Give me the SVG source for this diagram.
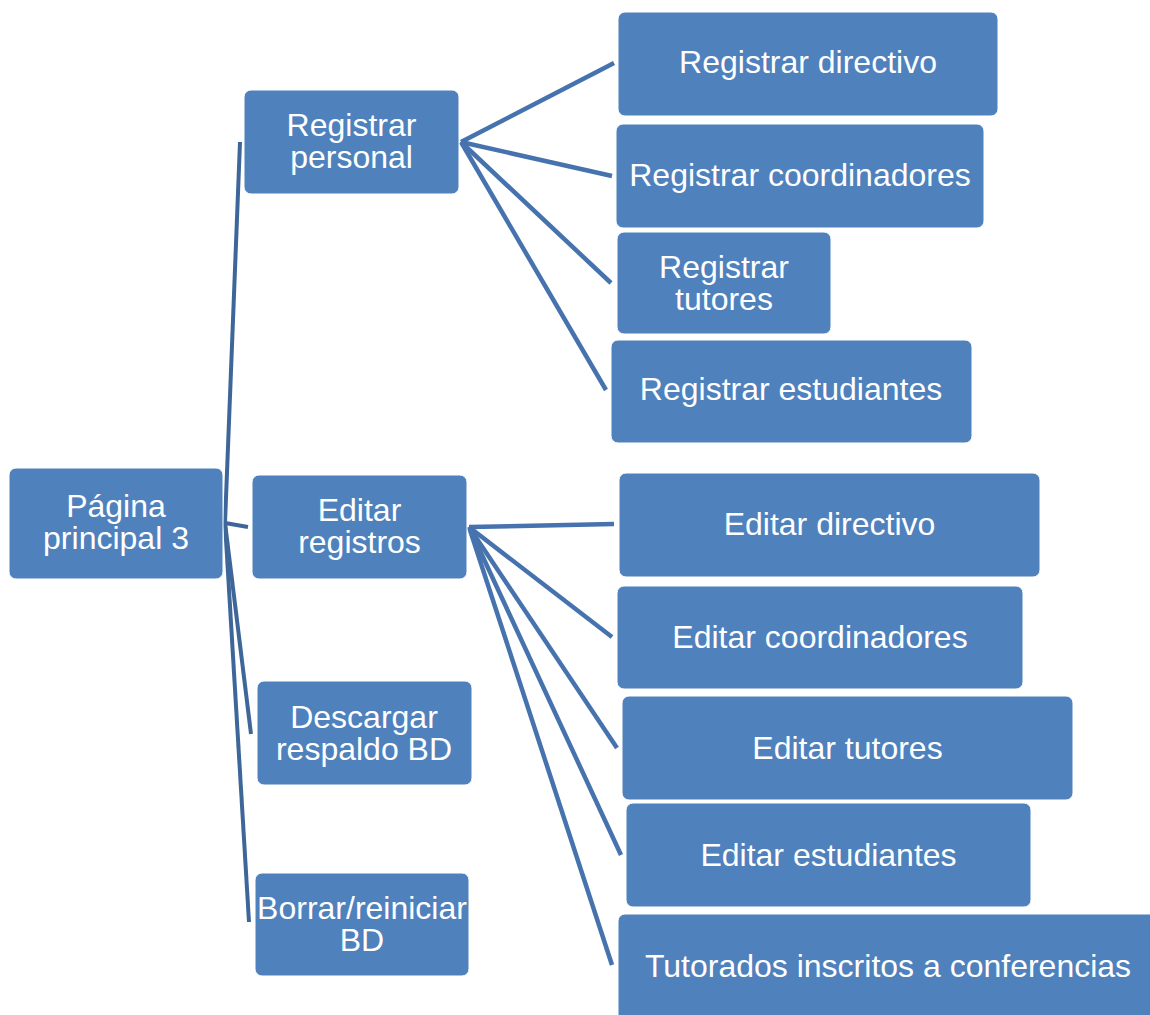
<svg xmlns="http://www.w3.org/2000/svg" width="1150" height="1015" viewBox="0 0 1150 1015">
<style>
.n{fill:#4F81BD;stroke:#ffffff;stroke-width:1}
.t{font-family:"Liberation Sans",Arial,sans-serif;font-size:32px;fill:#ffffff;text-anchor:middle}
.cl{stroke:#3F6699;stroke-width:4;fill:none;stroke-linecap:butt}
.cr{stroke:#4673AD;stroke-width:4.5;fill:none;stroke-linecap:butt}
</style>
<rect width="1150" height="1015" fill="#ffffff"/>
<g id="connectors">
<line class="cl" x1="225" y1="523" x2="240" y2="142"/>
<line class="cl" x1="225" y1="523" x2="248" y2="527"/>
<line class="cl" x1="225" y1="523" x2="251" y2="734"/>
<line class="cl" x1="225" y1="523" x2="249" y2="922"/>
<line class="cr" x1="461" y1="142" x2="614" y2="63"/>
<line class="cr" x1="461" y1="142" x2="612" y2="176"/>
<line class="cr" x1="461" y1="142" x2="611" y2="283"/>
<line class="cr" x1="461" y1="142" x2="606" y2="390"/>
<line class="cr" x1="469" y1="527" x2="614" y2="524"/>
<line class="cr" x1="469" y1="527" x2="612" y2="637"/>
<line class="cr" x1="469" y1="527" x2="617" y2="748"/>
<line class="cr" x1="469" y1="527" x2="621" y2="855"/>
<line class="cr" x1="469" y1="527" x2="612" y2="965"/>
</g>
<g id="n-pagina">
<rect class="n" x="9" y="468" width="214" height="111" rx="7"/>
<text class="t" x="116" y="517">Página</text>
<text class="t" x="116" y="549">principal 3</text>
</g>
<g id="n-registrar-personal">
<rect class="n" x="244" y="90" width="215" height="104" rx="7"/>
<text class="t" x="351.5" y="136">Registrar</text>
<text class="t" x="351.5" y="168">personal</text>
</g>
<g id="n-editar-registros">
<rect class="n" x="252" y="475" width="215" height="104" rx="7"/>
<text class="t" x="359.5" y="521">Editar</text>
<text class="t" x="359.5" y="553">registros</text>
</g>
<g id="n-descargar">
<rect class="n" x="257" y="681" width="215" height="104" rx="7"/>
<text class="t" x="364" y="728">Descargar</text>
<text class="t" x="364" y="760">respaldo BD</text>
</g>
<g id="n-borrar">
<rect class="n" x="255" y="873" width="214" height="103" rx="7"/>
<text class="t" x="362" y="919">Borrar/reiniciar</text>
<text class="t" x="362" y="951">BD</text>
</g>
<g id="n-reg-directivo">
<rect class="n" x="618" y="12" width="380" height="104" rx="7"/>
<text class="t" x="808" y="73">Registrar directivo</text>
</g>
<g id="n-reg-coordinadores">
<rect class="n" x="616" y="124" width="368" height="104" rx="7"/>
<text class="t" x="800" y="186">Registrar coordinadores</text>
</g>
<g id="n-reg-tutores">
<rect class="n" x="617" y="232" width="214" height="102" rx="7"/>
<text class="t" x="724" y="278">Registrar</text>
<text class="t" x="724" y="310">tutores</text>
</g>
<g id="n-reg-estudiantes">
<rect class="n" x="611" y="340" width="361" height="103" rx="7"/>
<text class="t" x="791" y="400">Registrar estudiantes</text>
</g>
<g id="n-ed-directivo">
<rect class="n" x="619" y="473" width="421" height="104" rx="7"/>
<text class="t" x="829.5" y="535">Editar directivo</text>
</g>
<g id="n-ed-coordinadores">
<rect class="n" x="617" y="586" width="406" height="103" rx="7"/>
<text class="t" x="820" y="648">Editar coordinadores</text>
</g>
<g id="n-ed-tutores">
<rect class="n" x="622" y="696" width="451" height="104" rx="7"/>
<text class="t" x="847.5" y="759">Editar tutores</text>
</g>
<g id="n-ed-estudiantes">
<rect class="n" x="626" y="803" width="405" height="104" rx="7"/>
<text class="t" x="828.5" y="866">Editar estudiantes</text>
</g>
<g id="n-tutorados">
<rect class="n" x="618" y="914" width="545" height="110" rx="7"/>
<text class="t" x="888" y="977">Tutorados inscritos a conferencias</text>
</g>
</svg>
